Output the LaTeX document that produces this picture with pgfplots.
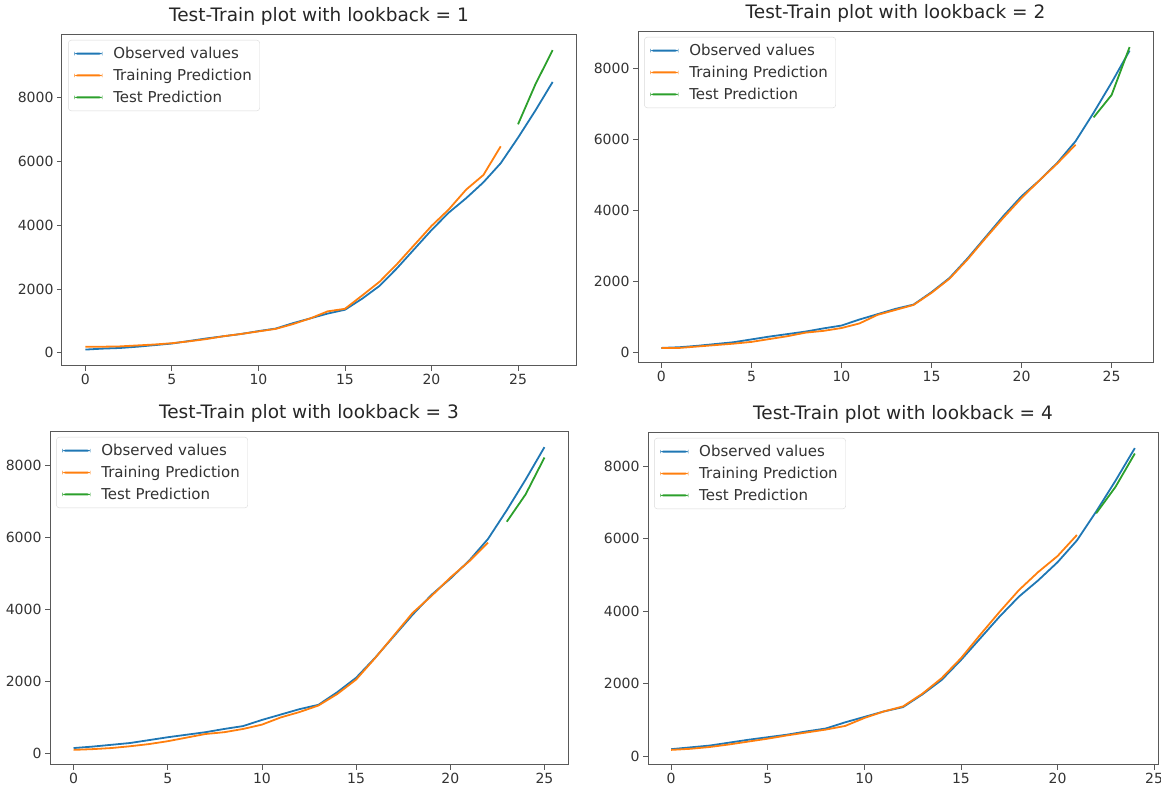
\documentclass[border=0pt]{standalone}
\usepackage{fontspec}
\setmainfont{DejaVu Sans}
\usepackage{pgfplots}
\pgfplotsset{compat=1.18}
\definecolor{tabblue}{HTML}{1F77B4}
\definecolor{taborange}{HTML}{FF7F0E}
\definecolor{tabgreen}{HTML}{2CA02C}
\pgfplotsset{
  lbstyle/.style={
    scale only axis,
    anchor=south west,
    axis line style={black!65, line width=1pt},
    tick style={black!65, line width=0.8pt},
    tick align=outside,
    major tick length=5pt,
    xtick pos=bottom, ytick pos=left,
    xtick={0,5,...,25},
    ytick={0,2000,4000,6000,8000},
    /pgf/number format/assume math mode=true,
    /pgf/number format/set thousands separator={},
    scaled y ticks=false,
    tick label style={font=\fontsize{14}{16}\selectfont, text=black!80},
    title style={font=\fontsize{18.5}{21}\selectfont, text=black!85},
    legend style={at={(0.012,0.985)}, anchor=north west, draw=black!15, rounded corners=3pt,
      font=\fontsize{15}{18}\selectfont, text=black!80, row sep=5pt, inner xsep=6pt, inner ysep=5pt},
    legend cell align=left,
    legend image code/.code={\fill[#1, draw=none] (0pt,-1pt) rectangle (28pt,1pt); \path (36pt,0pt);},
    every axis plot/.append style={line width=1.8pt, mark=none},
  }
}
\begin{document}
\begin{tikzpicture}
\useasboundingbox (0,0) rectangle (1161pt,791pt);
% lookback = 1
\begin{axis}[lbstyle, at={(62pt,425pt)}, width=514pt, height=331pt,
  xmin=-1.35, xmax=28.35, ymin=-415, ymax=9974,
  title={Test-Train plot with lookback = 1}]
\addplot[tabblue] coordinates {(0,100)(1,130)(2,150)(3,190)(4,240)(5,290)(6,370)(7,450)(8,520)(9,590)(10,680)(11,760)(12,930)(13,1080)(14,1230)(15,1350)(16,1700)(17,2100)(18,2650)(19,3250)(20,3850)(21,4400)(22,4850)(23,5350)(24,5950)(25,6750)(26,7600)(27,8500)};
\addlegendentry{Observed values}
\addplot[taborange] coordinates {(0,190)(1,190)(2,200)(3,230)(4,260)(5,300)(6,360)(7,430)(8,520)(9,590)(10,670)(11,750)(12,900)(13,1080)(14,1300)(15,1380)(16,1800)(17,2230)(18,2780)(19,3380)(20,3980)(21,4500)(22,5120)(23,5580)(24,6480)};
\addlegendentry{Training Prediction}
\addplot[tabgreen] coordinates {(25,7170)(26,8420)(27,9500)};
\addlegendentry{Test Prediction}
\end{axis}
% lookback = 2
\begin{axis}[lbstyle, at={(638pt,428pt)}, width=515pt, height=331pt,
  xmin=-1.3, xmax=27.3, ymin=-294, ymax=9024,
  title={Test-Train plot with lookback = 2}]
\addplot[tabblue] coordinates {(0,130)(1,150)(2,190)(3,240)(4,290)(5,370)(6,450)(7,520)(8,590)(9,680)(10,760)(11,930)(12,1080)(13,1230)(14,1350)(15,1700)(16,2100)(17,2650)(18,3250)(19,3850)(20,4400)(21,4850)(22,5350)(23,5950)(24,6750)(25,7600)(26,8500)};
\addlegendentry{Observed values}
\addplot[taborange] coordinates {(0,130)(1,130)(2,170)(3,210)(4,250)(5,300)(6,380)(7,460)(8,560)(9,610)(10,690)(11,820)(12,1060)(13,1200)(14,1340)(15,1680)(16,2080)(17,2620)(18,3220)(19,3800)(20,4350)(21,4850)(22,5330)(23,5850)};
\addlegendentry{Training Prediction}
\addplot[tabgreen] coordinates {(24,6620)(25,7250)(26,8600)};
\addlegendentry{Test Prediction}
\end{axis}
% lookback = 3
\begin{axis}[lbstyle, at={(50pt,26pt)}, width=518pt, height=333pt,
  xmin=-1.25, xmax=26.25, ymin=-320, ymax=8920,
  title={Test-Train plot with lookback = 3}]
\addplot[tabblue] coordinates {(0,150)(1,190)(2,240)(3,290)(4,370)(5,450)(6,520)(7,590)(8,680)(9,760)(10,930)(11,1080)(12,1230)(13,1350)(14,1700)(15,2100)(16,2650)(17,3250)(18,3850)(19,4400)(20,4850)(21,5350)(22,5950)(23,6750)(24,7600)(25,8500)};
\addlegendentry{Observed values}
\addplot[taborange] coordinates {(0,100)(1,120)(2,150)(3,200)(4,260)(5,340)(6,440)(7,540)(8,590)(9,680)(10,800)(11,1000)(12,1150)(13,1330)(14,1650)(15,2050)(16,2640)(17,3270)(18,3900)(19,4370)(20,4880)(21,5330)(22,5850)};
\addlegendentry{Training Prediction}
\addplot[tabgreen] coordinates {(23,6430)(24,7190)(25,8210)};
\addlegendentry{Test Prediction}
\end{axis}
% lookback = 4
\begin{axis}[lbstyle, at={(648pt,26pt)}, width=510pt, height=332pt,
  xmin=-1.2, xmax=25.2, ymin=-247, ymax=8917,
  title={Test-Train plot with lookback = 4}]
\addplot[tabblue] coordinates {(0,190)(1,240)(2,290)(3,370)(4,450)(5,520)(6,590)(7,680)(8,760)(9,930)(10,1080)(11,1230)(12,1350)(13,1700)(14,2100)(15,2650)(16,3250)(17,3850)(18,4400)(19,4850)(20,5350)(21,5950)(22,6750)(23,7600)(24,8500)};
\addlegendentry{Observed values}
\addplot[taborange] coordinates {(0,170)(1,200)(2,250)(3,320)(4,400)(5,480)(6,570)(7,650)(8,730)(9,830)(10,1050)(11,1230)(12,1370)(13,1720)(14,2150)(15,2700)(16,3350)(17,3980)(18,4580)(19,5080)(20,5520)(21,6100)};
\addlegendentry{Training Prediction}
\addplot[tabgreen] coordinates {(22,6700)(23,7430)(24,8350)};
\addlegendentry{Test Prediction}
\end{axis}
\end{tikzpicture}
\end{document}
